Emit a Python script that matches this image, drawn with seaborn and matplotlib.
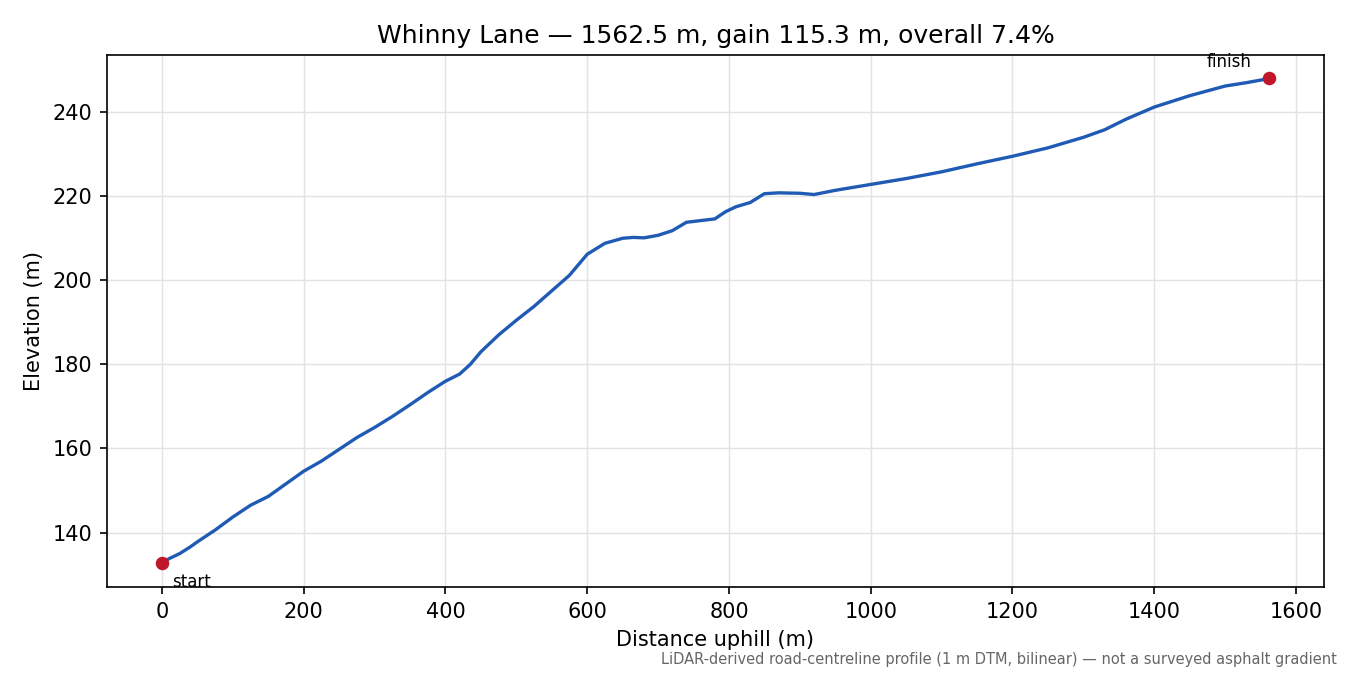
import matplotlib
matplotlib.use("Agg")
import matplotlib.pyplot as plt
import seaborn as sns
import pandas as pd

distance = [0, 10, 25, 40, 50, 75, 100, 125, 150, 175, 200, 225, 250, 275, 300, 325, 350, 375, 400, 420, 435, 450, 475, 500, 525, 550, 575, 600, 625, 650, 665, 680, 700, 720, 740, 760, 780, 795, 810, 830, 850, 870, 900, 920, 950, 1000, 1050, 1100, 1150, 1200, 1250, 1300, 1330, 1360, 1400, 1450, 1500, 1530, 1562.5]
elevation = [132.7, 133.8, 135.0, 136.6, 137.8, 140.6, 143.7, 146.5, 148.6, 151.6, 154.6, 157.0, 159.8, 162.6, 165.0, 167.6, 170.4, 173.3, 176.0, 177.7, 180.0, 183.0, 187.0, 190.5, 193.8, 197.5, 201.2, 206.2, 208.8, 210.0, 210.2, 210.1, 210.7, 211.8, 213.8, 214.2, 214.6, 216.3, 217.5, 218.5, 220.6, 220.8, 220.7, 220.4, 221.4, 222.8, 224.2, 225.8, 227.7, 229.5, 231.5, 234.0, 235.8, 238.3, 241.2, 243.9, 246.2, 247.0, 248.0]
endpoints_x = [0, 1562.5]
endpoints_y = [132.7, 248.0]
endpoint_labels = ["start", "finish"]

sns.set_theme(style="ticks", rc={"text.color": "black", "axes.labelcolor": "black",
                                 "xtick.color": "black", "ytick.color": "black"})
plt.rcParams['font.family'] = ['DejaVu Sans']
fig, ax = plt.subplots(figsize=(9, 4.5), dpi=150)
df = pd.DataFrame({"d": distance, "e": elevation})
sns.lineplot(data=df, x="d", y="e", ax=ax, color="#1f5bb5", linewidth=1.6)
ax.scatter(endpoints_x, endpoints_y, color="#c0182a", s=30, zorder=5)
ax.annotate(endpoint_labels[0], (endpoints_x[0], endpoints_y[0]), xytext=(5, -9), textcoords="offset points", fontsize=8, va="center")
ax.annotate(endpoint_labels[1], (endpoints_x[1], endpoints_y[1]), xytext=(-30, 8), textcoords="offset points", fontsize=8, va="center")
ax.grid(True, color="#e3e3e3", linewidth=0.7)
ax.set_xlim(-78, 1640)
ax.set_ylim(127, 253.5)
ax.set_xlabel("Distance uphill (m)", fontsize=10)
ax.set_ylabel("Elevation (m)", fontsize=10)
ax.tick_params(labelsize=10, length=3.5, width=0.8)
ax.set_title("Whinny Lane — 1562.5 m, gain 115.3 m, overall 7.4%", fontsize=12)
for s in ax.spines.values():
    s.set_color("black")
    s.set_linewidth(0.8)
fig.subplots_adjust(left=0.079, right=0.981, top=0.918, bottom=0.13)
fig.text(0.99, 0.012, "LiDAR-derived road-centreline profile (1 m DTM, bilinear) — not a surveyed asphalt gradient", ha="right", va="bottom", fontsize=7, color="#666666")
fig.savefig("out.png", dpi=150)
